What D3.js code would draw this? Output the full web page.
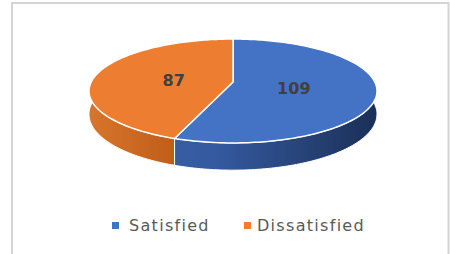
<!DOCTYPE html>
<html>
<head>
<meta charset="utf-8">
<script src="https://cdn.jsdelivr.net/npm/d3@7"></script>
<style>
  html, body { margin: 0; padding: 0; background: #fff; }
  svg { display: block; }
</style>
</head>
<body>
<script>
var width = 450, height = 254;

// data
var categories = ["Satisfied", "Dissatisfied"];
var values = [109, 87];
var topColors = ["#4472C4", "#ED7D31"];
var sideColors = [["#34599E", "#1B2F57"], ["#D8752C", "#B3520F"]];

// pie geometry (projected 3D disc)
var cx = 233, cy = 82;      // projected centre of the top face
var A = 141.8, B = 50.4;    // horizontal / vertical radius factors
var p = 0.173;              // perspective strength
var D = 22.5;               // depth of the disc

var svg = d3.select("body").append("svg")
    .attr("width", width)
    .attr("height", height);

// frame
svg.append("path")
    .attr("d", "M12,260 L12,3 L448.5,3 L448.5,260")
    .style("fill", "none")
    .style("stroke", "#d4d4d4")
    .style("stroke-width", 2);

var pie = d3.pie().sort(null).value(function(d){ return d; });
var arcs = pie(values);

// project a point at angle a (0 = top, clockwise) and radius r (0..1)
function proj(a, r, down) {
    var u = r * Math.sin(a), v = -r * Math.cos(a);
    var k = 1 / (1 - p * v);
    return [cx + A * u * k, cy + B * v * k + (down ? D * k : 0)];
}

function arcPoints(a0, a1, down) {
    var n = Math.max(2, Math.ceil(Math.abs(a1 - a0) / 0.02));
    var pts = [];
    for (var i = 0; i <= n; i++) {
        pts.push(proj(a0 + (a1 - a0) * i / n, 1, down));
    }
    return pts;
}

var line = d3.line();

var defs = svg.append("defs");
sideColors.forEach(function(c, i) {
    var g = defs.append("linearGradient")
        .attr("id", "side" + i)
        .attr("gradientUnits", "userSpaceOnUse")
        .attr("x1", cx - A * 1.02).attr("y1", 0)
        .attr("x2", cx + A * 1.02).attr("y2", 0);
    g.append("stop").attr("offset", "0%").attr("stop-color", i == 0 ? "#3C63AD" : c[0]);
    g.append("stop").attr("offset", "45%").attr("stop-color", c[i == 0 ? 0 : 1]);
    g.append("stop").attr("offset", "100%").attr("stop-color", c[1]);
});

// side walls
svg.selectAll("path.side")
    .data(arcs)
    .enter().append("path")
    .attr("class", "side")
    .attr("d", function(d) {
        var top = arcPoints(d.startAngle, d.endAngle, false);
        var bot = arcPoints(d.endAngle, d.startAngle, true);
        return line(top.concat(bot)) + "Z";
    })
    .style("fill", function(d, i){ return "url(#side" + i + ")"; })
    .style("stroke", "#ffffff")
    .style("stroke-width", 1);

// top faces
svg.selectAll("path.top")
    .data(arcs)
    .enter().append("path")
    .attr("class", "top")
    .attr("d", function(d) {
        var pts = [proj(0, 0, false)].concat(arcPoints(d.startAngle, d.endAngle, false));
        return line(pts) + "Z";
    })
    .style("fill", function(d, i){ return topColors[i]; })
    .style("stroke", "#ffffff")
    .style("stroke-width", 1.5)
    .style("stroke-linejoin", "round");

// value labels
svg.selectAll("text.val")
    .data(arcs)
    .enter().append("text")
    .attr("class", "val")
    .attr("x", function(d){ return proj((d.startAngle + d.endAngle) / 2, 0.43, false)[0]; })
    .attr("y", function(d){ return proj((d.startAngle + d.endAngle) / 2, 0.43, false)[1] + 8; })
    .attr("text-anchor", "middle")
    .style("font-family", "'DejaVu Sans', sans-serif")
    .style("font-weight", "bold")
    .style("font-size", "16px")
    .style("fill", "#404040")
    .text(function(d){ return d.value; });

// legend
var legendX = [112, 244];
var legendTextX = [17, 13];
var legend = svg.selectAll("g.legend")
    .data(categories)
    .enter().append("g")
    .attr("class", "legend")
    .attr("transform", function(d, i){ return "translate(" + legendX[i] + ",231)"; });

legend.append("rect")
    .attr("x", 0).attr("y", -9)
    .attr("width", 7).attr("height", 7)
    .style("fill", function(d, i){ return topColors[i]; });

legend.append("text")
    .attr("x", function(d, i){ return legendTextX[i]; })
    .attr("y", 0)
    .style("font-family", "'DejaVu Sans', sans-serif")
    .style("font-size", "16px")
    .style("letter-spacing", "1.3px")
    .style("fill", "#595959")
    .text(function(d){ return d; });
</script>
</body>
</html>
